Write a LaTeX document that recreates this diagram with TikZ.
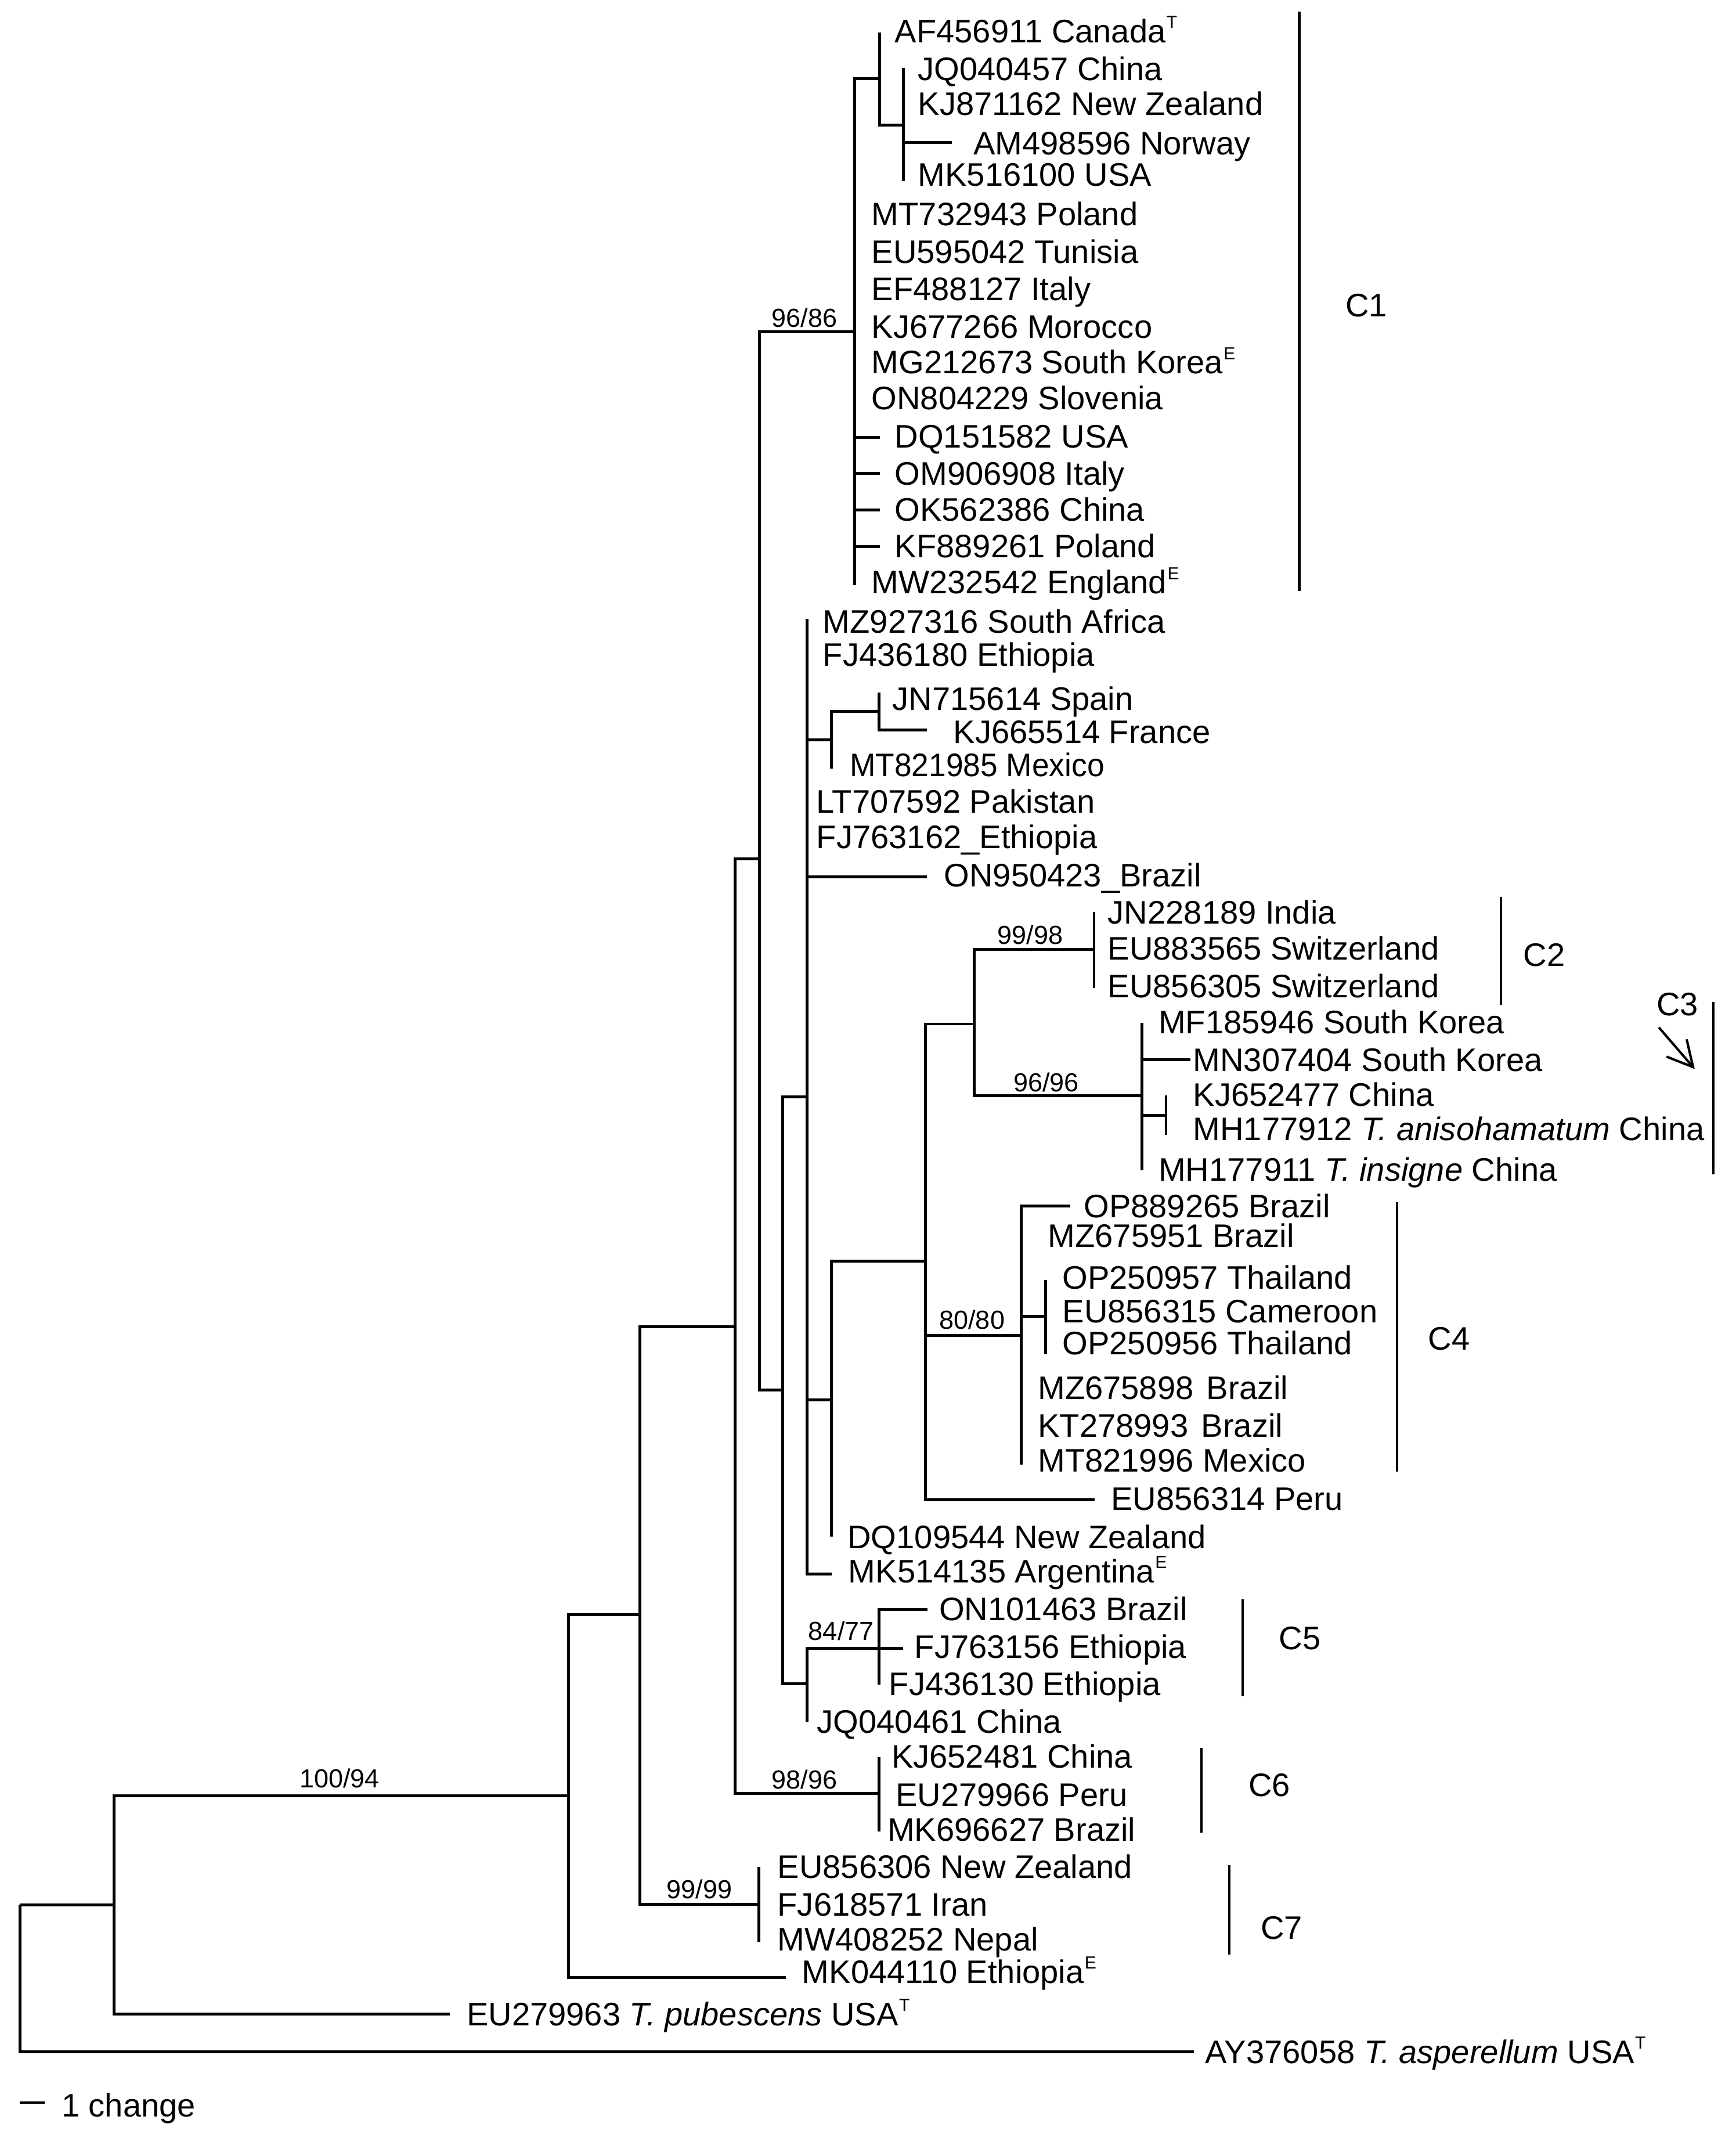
\documentclass[tikz,border=0pt]{standalone}
\usepackage{fontspec}
\setmainfont{Liberation Sans}
\usetikzlibrary{arrows.meta}
\newcommand\sups[1]{\hspace{0.3pt}\raisebox{6pt}{\fontsize{7.3}{8}\selectfont #1}}
\begin{document}
\begin{tikzpicture}[x=0.02cm,y=-0.02cm,
  br/.style={line width=1.2pt},
  bar/.style={line width=1pt},
  leaf/.style={anchor=west, inner sep=0pt, font=\fontsize{13.6}{16}\selectfont, text height=9.75pt, text depth=0pt},
  bs/.style={anchor=center, inner sep=0pt, font=\fontsize{10.9}{13}\selectfont, text height=7.8pt, text depth=0pt},
  clade/.style={anchor=west, inner sep=0pt, font=\fontsize{13.6}{16}\selectfont, text height=9.75pt, text depth=0pt}]
\useasboundingbox (0,0) rectangle (1273,1568);

% internal nodes
\coordinate (r) at (14.5,1397);
\coordinate (n1) at (83.6,1397);
\coordinate (n2) at (417,1317.2);
\coordinate (n3) at (469.4,1184.2);
\coordinate (n4) at (539.3,973);
\coordinate (c7) at (556.8,1396.5);
\coordinate (c6) at (644.7,1315.5);
\coordinate (n5) at (557,630);
\coordinate (c1) at (627,243.3);
\coordinate (c1a) at (645,57.6);
\coordinate (c1b) at (662.7,91.8);
\coordinate (n6) at (574,1019.6);
\coordinate (n7) at (592,804.6);
\coordinate (n8) at (610,542.5);
\coordinate (n8a) at (644.8,521.7);
\coordinate (n9) at (610,1026.8);
\coordinate (n10) at (679,925);
\coordinate (n11) at (714.6,751);
\coordinate (c2) at (802.5,696.3);
\coordinate (c3) at (837.7,803.5);
\coordinate (n12) at (855.3,818);
\coordinate (c4) at (749,979.4);
\coordinate (n13) at (767,965.5);
\coordinate (n14) at (592,1235);
\coordinate (c5) at (644.7,1208.8);

% tips
\coordinate (t1) at (645,24);
\coordinate (t2) at (662.7,50);
\coordinate (t3) at (662.7,75.8);
\coordinate (t4) at (698,104.5);
\coordinate (t5) at (662.7,132.7);
\coordinate (t6) at (627,156.7);
\coordinate (t7) at (627,184.6);
\coordinate (t8) at (627,211.8);
\coordinate (t9) at (627,239.5);
\coordinate (t10) at (627,265.6);
\coordinate (t11) at (627,292);
\coordinate (t12) at (645.6,320.6);
\coordinate (t13) at (645.6,347);
\coordinate (t14) at (645.6,374);
\coordinate (t15) at (645.6,400.8);
\coordinate (t16) at (627,429);
\coordinate (t17) at (592,453.7);
\coordinate (t18) at (592,480);
\coordinate (t19) at (644.8,508);
\coordinate (t20) at (680,535.3);
\coordinate (t21) at (610,563.5);
\coordinate (t22) at (592,588);
\coordinate (t23) at (592,613);
\coordinate (t24) at (680,643);
\coordinate (t25) at (802.5,669);
\coordinate (t26) at (802.5,695.6);
\coordinate (t27) at (802.5,724.5);
\coordinate (t28) at (837.7,750.3);
\coordinate (t29) at (873,777);
\coordinate (t30) at (855.3,803.5);
\coordinate (t31) at (855.3,832.3);
\coordinate (t32) at (837.7,858.2);
\coordinate (t33) at (785,884.5);
\coordinate (t34) at (749,906);
\coordinate (t35) at (767,938.7);
\coordinate (t36) at (767,961.5);
\coordinate (t37) at (767,993);
\coordinate (t38) at (749,1017.7);
\coordinate (t39) at (749,1045.4);
\coordinate (t40) at (749,1074);
\coordinate (t41) at (802.8,1100);
\coordinate (t42) at (610,1127);
\coordinate (t43) at (610,1154.3);
\coordinate (t44) at (680.5,1180.4);
\coordinate (t45) at (662.6,1208.8);
\coordinate (t46) at (644.7,1235.6);
\coordinate (t47) at (592,1262.6);
\coordinate (t48) at (644.7,1288.6);
\coordinate (t49) at (644.7,1316);
\coordinate (t50) at (644.7,1343.3);
\coordinate (t51) at (556.8,1369);
\coordinate (t52) at (556.8,1396.5);
\coordinate (t53) at (556.8,1424.2);
\coordinate (t54) at (576.6,1450.2);
\coordinate (t55) at (329.8,1477);
\coordinate (t56) at (875.6,1504.6);

% branches
\foreach \a/\b in {r/n1,r/t56,n1/n2,n1/t55,n2/n3,n2/t54,n3/n4,n3/c7,
  n4/n5,n4/c6,n5/c1,n5/n6,
  c1/c1a,c1/t6,c1/t7,c1/t8,c1/t9,c1/t10,c1/t11,c1/t12,c1/t13,c1/t14,c1/t15,c1/t16,
  c1a/t1,c1a/c1b,c1b/t2,c1b/t3,c1b/t4,c1b/t5,
  n6/n7,n6/n14,
  n7/t17,n7/t18,n7/n8,n7/t22,n7/t23,n7/t24,n7/n9,n7/t43,
  n8/n8a,n8/t21,n8a/t19,n8a/t20,
  n9/n10,n9/t42,n10/n11,n10/c4,n10/t41,
  n11/c2,n11/c3,c2/t25,c2/t26,c2/t27,
  c3/t28,c3/t29,c3/n12,c3/t32,n12/t30,n12/t31,
  c4/t33,c4/t34,c4/n13,c4/t38,c4/t39,c4/t40,n13/t35,n13/t36,n13/t37,
  n14/c5,n14/t47,c5/t44,c5/t45,c5/t46,
  c6/t48,c6/t49,c6/t50,c7/t51,c7/t52,c7/t53}
  \draw[br] (\a) |- (\b);

% leaf labels
\node[leaf] (l1) at (656,22.6) {AF456911 Canada\sups{T}};
\node[leaf] (l2) at (673,50.4) {JQ040457 China};
\node[leaf] (l3) at (673,75.8) {KJ871162 New Zealand};
\node[leaf] (l4) at (713.7,105) {AM498596 Norway};
\node[leaf] (l5) at (673,127.8) {MK516100 USA};
\node[leaf] (l6) at (639,156.7) {MT732943 Poland};
\node[leaf] (l7) at (639,184.6) {EU595042 Tunisia};
\node[leaf] (l8) at (639,211.8) {EF488127 Italy};
\node[leaf] (l9) at (639,239.5) {KJ677266 Morocco};
\node[leaf] (l10) at (639,265.6) {MG212673 South Korea\sups{E}};
\node[leaf] (l11) at (639,292) {ON804229 Slovenia};
\node[leaf] (l12) at (656,319.9) {DQ151582 USA};
\node[leaf] (l13) at (656,347) {OM906908 Italy};
\node[leaf] (l14) at (656,373.7) {OK562386 China};
\node[leaf] (l15) at (656,400.5) {KF889261 Poland};
\node[leaf] (l16) at (639,426.9) {MW232542 England\sups{E}};
\node[leaf] (l17) at (603.3,455.5) {MZ927316 South Africa};
\node[leaf] (l18) at (603.3,479.8) {FJ436180 Ethiopia};
\node[leaf] (l19) at (654.3,512.5) {JN715614 Spain};
\node[leaf] (l20) at (699,536.8) {KJ665514 France};
\node[leaf] (l21) at (623,561) {\scalebox{0.95}[1]{MT821985 Mexico}};
\node[leaf] (l22) at (598.6,587.8) {LT707592 Pakistan};
\node[leaf] (l23) at (598.6,613.6) {FJ763162\_Ethiopia};
\node[leaf] (l24) at (692.2,641.8) {ON950423\_Brazil};
\node[leaf] (l25) at (812.3,669) {JN228189 India};
\node[leaf] (l26) at (812.3,695.6) {EU883565 Switzerland};
\node[leaf] (l27) at (812.3,722.9) {EU856305 Switzerland};
\node[leaf] (l28) at (849.5,749.5) {MF185946 South Korea};
\node[leaf] (l29) at (874.8,777) {MN307404 South Korea};
\node[leaf] (l30) at (874.8,802.8) {KJ652477 China};
\node[leaf] (l31) at (874.8,827.8) {MH177912 \textit{T. anisohamatum} China};
\node[leaf] (l32) at (849.5,857.4) {MH177911 \textit{T. insigne} China};
\node[leaf] (l33) at (794.7,884.5) {OP889265 Brazil};
\node[leaf] (l34) at (768.4,906) {MZ675951 Brazil};
\node[leaf] (l35) at (779,936.6) {OP250957 Thailand};
\node[leaf] (l36) at (779,961.5) {EU856315 Cameroon};
\node[leaf] (l37) at (779,985) {OP250956 Thailand};
\node[leaf] (l38) at (761,1017.7) {MZ675898\hspace{0.4em}Brazil};
\node[leaf] (l39) at (761,1045.4) {KT278993\hspace{0.4em}Brazil};
\node[leaf] (l40) at (761,1070.7) {MT821996 Mexico};
\node[leaf] (l41) at (814.7,1099) {EU856314 Peru};
\node[leaf] (l42) at (621.4,1127) {DQ109544 New Zealand};
\node[leaf] (l43) at (622,1152) {MK514135 Argentina\sups{E}};
\node[leaf] (l44) at (688.6,1180) {ON101463 Brazil};
\node[leaf] (l45) at (670.6,1207.4) {FJ763156 Ethiopia};
\node[leaf] (l46) at (651.8,1235) {FJ436130 Ethiopia};
\node[leaf] (l47) at (599,1262.5) {JQ040461 China};
\node[leaf] (l48) at (653.6,1288) {KJ652481 China};
\node[leaf] (l49) at (656.6,1316.3) {EU279966 Peru};
\node[leaf] (l50) at (650.6,1341.7) {MK696627 Brazil};
\node[leaf] (l51) at (570,1369) {EU856306 New Zealand};
\node[leaf] (l52) at (570,1396.7) {FJ618571 Iran};
\node[leaf] (l53) at (570,1422) {MW408252 Nepal};
\node[leaf] (l54) at (588,1446) {MK044110 Ethiopia\sups{E}};
\node[leaf] (l55) at (342,1477) {EU279963 \textit{T. pubescens} USA\sups{T}};
\node[leaf] (l56) at (883.7,1504.6) {AY376058 \textit{T. asperellum} USA\sups{T}};

% support values
\node[bs] (s1) at (590,233) {96/86};
\node[bs] (s2) at (755.6,685.7) {99/98};
\node[bs] (s3) at (767.3,793.6) {96/96};
\node[bs] (s4) at (713,968) {80/80};
\node[bs] (s5) at (617,1196) {84/77};
\node[bs] (s6) at (590,1305) {98/96};
\node[bs] (s7) at (513,1385.7) {99/99};
\node[bs] (s8) at (249,1304) {100/94};

% clade bars
\coordinate (b1a) at (953,8.5);   \coordinate (b1b) at (953,433.5);
\coordinate (b2a) at (1101,657.6); \coordinate (b2b) at (1101,737);
\coordinate (b3a) at (1256.6,735); \coordinate (b3b) at (1256.6,861.3);
\coordinate (b4a) at (1024.6,881.5); \coordinate (b4b) at (1024.6,1079.2);
\coordinate (b5a) at (911.6,1172.8); \coordinate (b5b) at (911.6,1243.9);
\coordinate (b6a) at (881.2,1281.9); \coordinate (b6b) at (881.2,1343.9);
\coordinate (b7a) at (901.6,1367.8); \coordinate (b7b) at (901.6,1433.6);
\foreach \i in {1,...,7} \draw[bar] (b\i a) -- (b\i b);

\node[clade] (k1) at (986.5,223.8) {C1};
\node[clade] (k2) at (1117,700) {C2};
\node[clade] (k3) at (1214.7,736.1) {C3};
\node[clade] (k4) at (1047.3,981.6) {C4};
\node[clade] (k5) at (937.8,1201.3) {C5};
\node[clade] (k6) at (915.5,1308.8) {C6};
\node[clade] (k7) at (924.4,1413.4) {C7};

\coordinate (a3s) at (1216.8,753.5);
\coordinate (a3e) at (1243.1,784);
\draw[line width=1pt, -{Straight Barb[length=0.37cm,width=0.39cm]}] (a3s) -- (a3e);

% scale bar
\coordinate (sc1) at (14.5,1542);
\coordinate (sc2) at (32.6,1542);
\draw[br] (sc1) -- (sc2);
\node[leaf] (sct) at (44.8,1543.7) {1 change};
\end{tikzpicture}
\end{document}
